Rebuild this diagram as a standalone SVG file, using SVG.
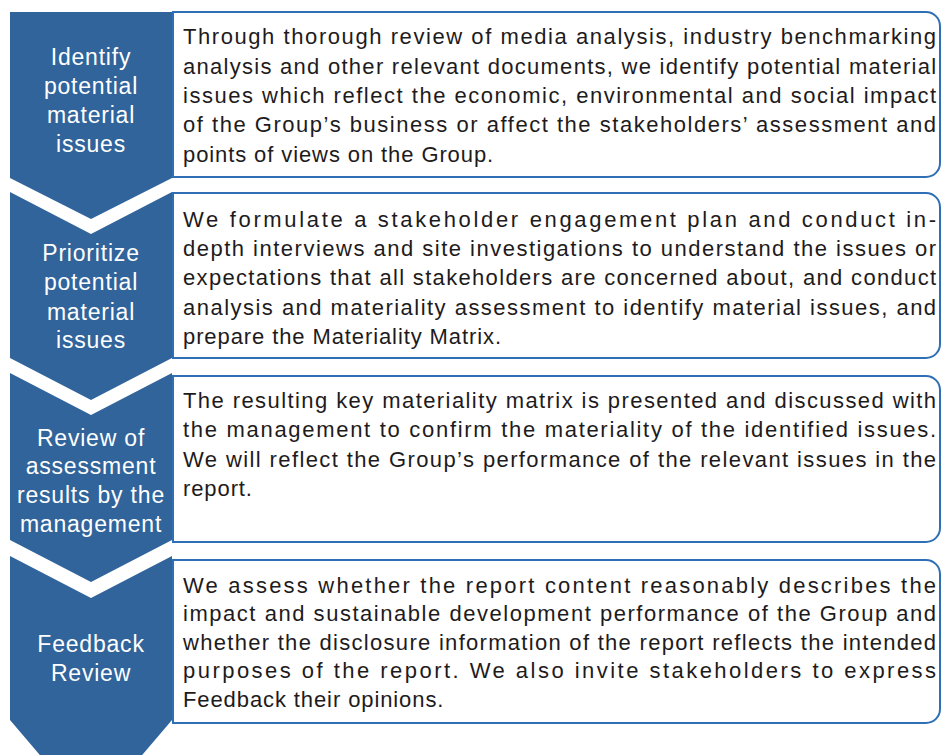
<svg xmlns="http://www.w3.org/2000/svg" width="941" height="755" viewBox="0 0 941 755">
<style>
.chev{fill:#30649b}
.box{fill:#fff;stroke:#2f6fb6;stroke-width:2}
.lbl{font-family:"Liberation Sans",Arial,sans-serif;font-size:23px;fill:#fff;text-anchor:middle;letter-spacing:0.8px}
.txt{font-family:"Liberation Sans",Arial,sans-serif;font-size:22px;fill:#1e1b1c;letter-spacing:0.9px}
</style>
<rect width="941" height="755" fill="#fff"/>
<g id="connectors"></g>
<g id="step1">
<path class="chev" d="M10,12 H172 V178 L91,219 L10,178 Z"/>
<text class="lbl"><tspan x="91" y="65">Identify</tspan><tspan x="91" y="94">potential</tspan><tspan x="91" y="123">material</tspan><tspan x="91" y="152">issues</tspan></text>
</g>
<g id="desc1">
<path class="box" d="M173,12 H926 A14,14 0 0 1 940,26 V163 A14,14 0 0 1 926,177 H173 Z"/>
<text class="txt"><tspan x="183" y="44" textLength="754" lengthAdjust="spacing">Through thorough review of media analysis, industry benchmarking</tspan></text>
<text class="txt"><tspan x="183" y="74" textLength="754" lengthAdjust="spacing">analysis and other relevant documents, we identify potential material</tspan></text>
<text class="txt"><tspan x="183" y="103" textLength="754" lengthAdjust="spacing">issues which reflect the economic, environmental and social impact</tspan></text>
<text class="txt"><tspan x="183" y="132" textLength="754" lengthAdjust="spacing">of the Group’s business or affect the stakeholders’ assessment and</tspan></text>
<text class="txt" x="183" y="162">points of views on the Group.</text>
</g>
<g id="step2">
<path class="chev" d="M10,192 L91,234 L172,192 V358 L91,400 L10,358 Z"/>
<text class="lbl"><tspan x="91" y="261">Prioritize</tspan><tspan x="91" y="290">potential</tspan><tspan x="91" y="320">material</tspan><tspan x="91" y="348">issues</tspan></text>
</g>
<g id="desc2">
<path class="box" d="M173,193 H926 A14,14 0 0 1 940,207 V344 A14,14 0 0 1 926,358 H173 Z"/>
<text class="txt"><tspan x="183" y="227" textLength="754" lengthAdjust="spacing">We formulate a stakeholder engagement plan and conduct in-</tspan></text>
<text class="txt"><tspan x="183" y="256" textLength="754" lengthAdjust="spacing">depth interviews and site investigations to understand the issues or</tspan></text>
<text class="txt"><tspan x="183" y="285" textLength="754" lengthAdjust="spacing">expectations that all stakeholders are concerned about, and conduct</tspan></text>
<text class="txt"><tspan x="183" y="315" textLength="754" lengthAdjust="spacing">analysis and materiality assessment to identify material issues, and</tspan></text>
<text class="txt" x="183" y="344">prepare the Materiality Matrix.</text>
</g>
<g id="step3">
<path class="chev" d="M10,373 L91,415 L172,373 V540 L91,582 L10,540 Z"/>
<text class="lbl"><tspan x="91" y="446">Review of</tspan><tspan x="91" y="474">assessment</tspan><tspan x="91" y="503">results by the</tspan><tspan x="91" y="532">management</tspan></text>
</g>
<g id="desc3">
<path class="box" d="M173,376 H926 A14,14 0 0 1 940,390 V528 A14,14 0 0 1 926,542 H173 Z"/>
<text class="txt"><tspan x="183" y="408" textLength="754" lengthAdjust="spacing">The resulting key materiality matrix is presented and discussed with</tspan></text>
<text class="txt"><tspan x="183" y="437" textLength="754" lengthAdjust="spacing">the management to confirm the materiality of the identified issues.</tspan></text>
<text class="txt"><tspan x="183" y="467" textLength="754" lengthAdjust="spacing">We will reflect the Group’s performance of the relevant issues in the</tspan></text>
<text class="txt" x="183" y="496">report.</text>
</g>
<g id="step4">
<path class="chev" d="M10,556 L91,598 L172,556 V720 L91,815 L10,720 Z"/>
<text class="lbl"><tspan x="91" y="652">Feedback</tspan><tspan x="91" y="681">Review</tspan></text>
</g>
<g id="desc4">
<path class="box" d="M173,560 H926 A14,14 0 0 1 940,574 V709 A14,14 0 0 1 926,723 H173 Z"/>
<text class="txt"><tspan x="183" y="593" textLength="754" lengthAdjust="spacing">We assess whether the report content reasonably describes the</tspan></text>
<text class="txt"><tspan x="183" y="621" textLength="754" lengthAdjust="spacing">impact and sustainable development performance of the Group and</tspan></text>
<text class="txt"><tspan x="183" y="650" textLength="754" lengthAdjust="spacing">whether the disclosure information of the report reflects the intended</tspan></text>
<text class="txt"><tspan x="183" y="678" textLength="754" lengthAdjust="spacing">purposes of the report. We also invite stakeholders to express</tspan></text>
<text class="txt" x="183" y="707">Feedback their opinions.</text>
</g>
</svg>
